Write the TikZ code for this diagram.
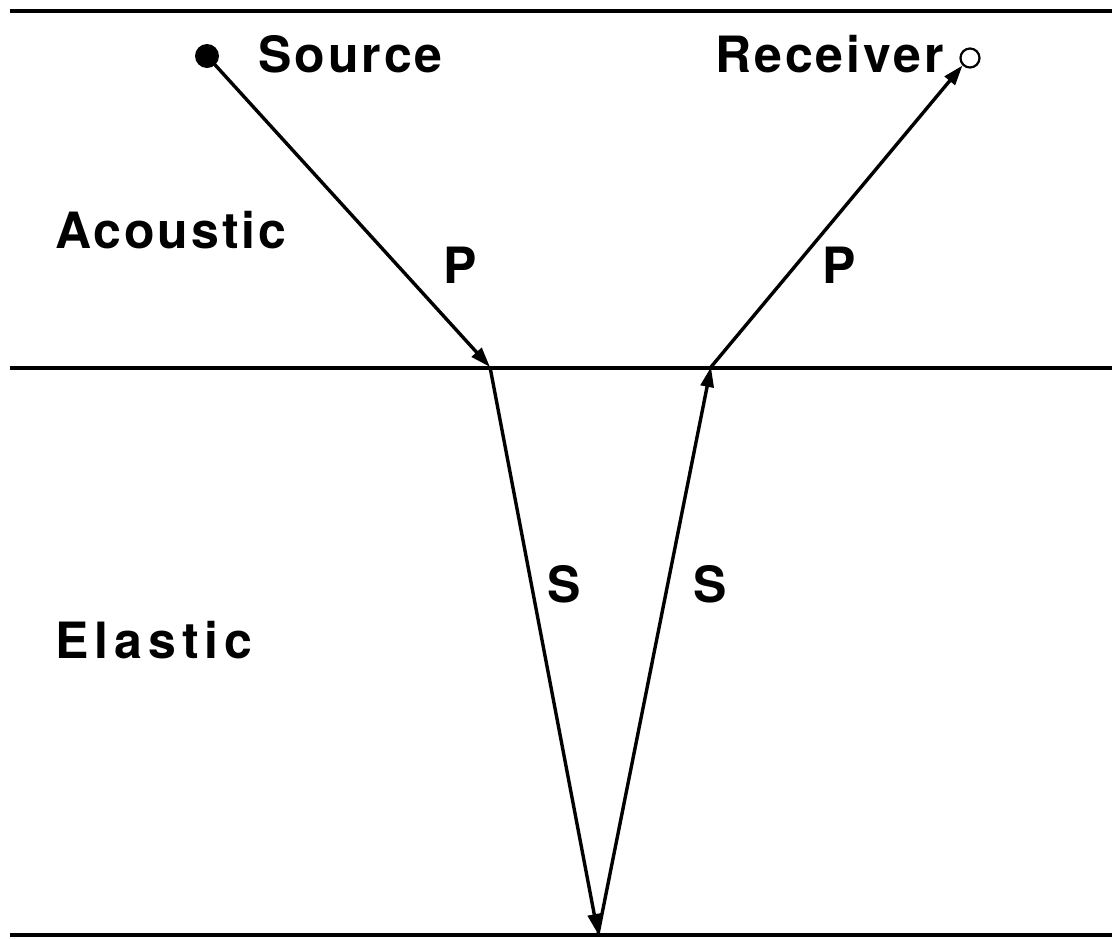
\documentclass[tikz,border=0pt]{standalone}
\usepackage{fontspec}
\setmainfont{TeX Gyre Heros}[LetterSpace=6]
\usetikzlibrary{arrows.meta}
\begin{document}
\begin{tikzpicture}[x=1pt,y=-1pt,
  lbl/.style={font=\fontsize{50}{56}\selectfont\bfseries, inner sep=0pt, anchor=base west},
  ray/.style={line width=3.4pt, -{Triangle[length=20pt,width=13pt]}},
  layer/.style={line width=3.8pt}]
\useasboundingbox (0,0) rectangle (1112,938);
\coordinate (tl) at (10,11);
\coordinate (tr) at (1112,11);
\coordinate (ml) at (10,368);
\coordinate (mr) at (1112,368);
\coordinate (bl) at (10,935);
\coordinate (br) at (1112,935);
\draw[layer] (tl) -- (tr);
\draw[layer] (ml) -- (mr);
\draw[layer] (bl) -- (br);
\node[circle, fill=black, minimum size=24pt, inner sep=0pt] (src) at (207,56) {};
\node[circle, draw=black, line width=2.2pt, fill=white, minimum size=19pt, inner sep=0pt] (rcv) at (970,58) {};
\coordinate (a) at (490,367);
\coordinate (b) at (711,367);
\coordinate (c) at (598,934);
\draw[ray] (src.center) -- (a);
\draw[ray] (a) -- (c);
\draw[ray] (c) -- (b);
\draw[ray] (b) -- (rcv.south west);
\node[lbl] (tsrc) at (258,72) {Source};
\node[lbl] (trcv) at (715,72) {Receiver};
\node[lbl] (tac) at (55,248) {Acoustic};
\node[lbl] (tel) at (55,658) {\addfontfeature{LetterSpace=12}Elastic};
\node[lbl] (p1) at (443,283) {P};
\node[lbl] (p2) at (822,283) {P};
\node[lbl] (s1) at (547,602) {S};
\node[lbl] (s2) at (693,602) {S};
\end{tikzpicture}
\end{document}
